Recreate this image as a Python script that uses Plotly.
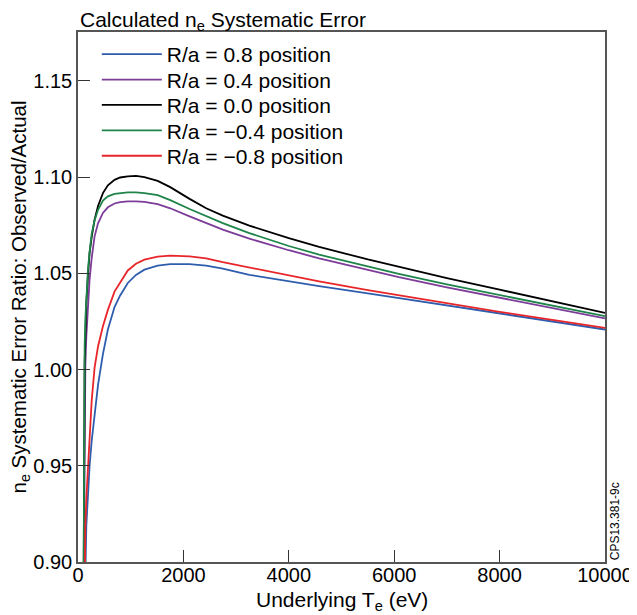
import plotly.graph_objects as go

# Underlying Te (eV)
te = [100, 113, 126, 139, 158, 189, 220, 260, 315, 380, 473, 567, 693, 800, 945,
      1100, 1260, 1512, 1750, 2117, 2432, 2747, 3251, 4000, 4575, 5500, 6087,
      7000, 8000, 9000, 10000]

ratio_p08 = [0.80, 0.84, 0.87, 0.893, 0.919, 0.936, 0.950, 0.963, 0.977, 0.992, 1.008,
             1.0208, 1.0325, 1.0385, 1.0450, 1.0492, 1.0519, 1.0540, 1.0548, 1.0548, 1.0540,
             1.0525, 1.0492, 1.0458, 1.0434, 1.0396, 1.0372, 1.0334, 1.0293, 1.0251, 1.0208]
ratio_p04 = [0.85, 0.93, 0.985, 1.002, 1.0173, 1.034, 1.0467, 1.058, 1.0692, 1.0760, 1.0814,
             1.0843, 1.0863, 1.0870, 1.0874, 1.0874, 1.0871, 1.0860, 1.0838, 1.0796, 1.0760,
             1.0727, 1.0680, 1.0620, 1.0578, 1.0516, 1.0480, 1.0427, 1.0372, 1.0318, 1.0266]
ratio_00 = [0.85, 0.99, 1.0035, 1.016, 1.0346, 1.049, 1.0606, 1.069, 1.0779, 1.085, 1.0917,
            1.0957, 1.0986, 1.0998, 1.1004, 1.1006, 1.1000, 1.0980, 1.0948, 1.0887, 1.0838,
            1.0800, 1.0748, 1.0683, 1.0638, 1.0572, 1.0533, 1.0475, 1.0415, 1.0355, 1.0294]
ratio_m04 = [0.85, 0.97, 1.012, 1.026, 1.036, 1.052, 1.061, 1.0705, 1.0775, 1.0830, 1.0878,
             1.0900, 1.0913, 1.0918, 1.0921, 1.0921, 1.0917, 1.0906, 1.0880, 1.0834, 1.0796,
             1.0761, 1.0709, 1.0642, 1.0597, 1.0534, 1.0497, 1.0442, 1.0386, 1.0331, 1.0277]
ratio_m08 = [0.80, 0.86, 0.901, 0.919, 0.933, 0.950, 0.966, 0.984, 1.001, 1.012, 1.0225,
             1.031, 1.0405, 1.0455, 1.0515, 1.0550, 1.0571, 1.0587, 1.0592, 1.0588, 1.0578,
             1.0558, 1.0530, 1.0488, 1.0458, 1.0413, 1.0386, 1.0344, 1.0300, 1.0258, 1.0216]

series_names = ["R/a = 0.8 position", "R/a = 0.4 position", "R/a = 0.0 position",
                "R/a = \u22120.4 position", "R/a = \u22120.8 position"]
series_colors = ["#2F5DAE", "#7D3C98", "#000000", "#1E8449", "#E8262A"]
series_values = [ratio_p08, ratio_p04, ratio_00, ratio_m04, ratio_m08]

x_ticks = [0, 2000, 4000, 6000, 8000, 10000]
y_ticks = [0.90, 0.95, 1.00, 1.05, 1.10, 1.15]

FONT = "Liberation Sans, Arial, Helvetica, sans-serif"
PLOT_H = 530.0

fig = go.Figure()
legend_ids = ["legend", "legend2", "legend3", "legend4", "legend5"]
for name, color, vals, lid in zip(series_names, series_colors, series_values, legend_ids):
    fig.add_trace(go.Scatter(x=te, y=vals, mode="lines", name=name, legend=lid,
                             line=dict(color=color, width=1.8)))

axis_common = dict(showline=True, linecolor="#555555", linewidth=1.5, mirror=True,
                   ticks="inside", ticklen=12, tickwidth=1.2, tickcolor="#333333",
                   showgrid=False, zeroline=False,
                   tickfont=dict(family=FONT, size=20, color="#000000"))

fig.update_xaxes(range=[0, 10000], tickvals=x_ticks, ticklabelstandoff=-6,
                 ticktext=[str(v) for v in x_ticks], **axis_common)
fig.update_yaxes(range=[0.9, 1.1754], tickvals=y_ticks,
                 ticktext=["%.2f" % v for v in y_ticks], **axis_common)

legend_layout = {}
for i, lid in enumerate(legend_ids):
    center_px = 22.5 + 25.4 * i  # distance below plot top
    legend_layout[lid] = dict(x=0.0357, y=1 - center_px / PLOT_H, xanchor="left",
                              yanchor="middle", bgcolor="rgba(0,0,0,0)", borderwidth=0,
                              itemwidth=60, font=dict(family=FONT, size=21, color="#000000"))

fig.update_layout(
    width=637, height=615,
    margin=dict(l=70, r=38, t=24, b=61),
    paper_bgcolor="white", plot_bgcolor="white",
    font=dict(family=FONT, size=21, color="#000000"),
    showlegend=True,
    **legend_layout,
    annotations=[
        dict(text="Calculated n<sub>e</sub> Systematic Error", xref="paper", yref="paper",
             x=0, y=1.021, xanchor="left", yanchor="middle", showarrow=False,
             font=dict(family=FONT, size=21)),
        dict(text="n<sub>e</sub> Systematic Error Ratio: Observed/Actual", xref="paper",
             yref="paper", x=-0.111, y=0.5, textangle=-90, xanchor="center",
             yanchor="middle", showarrow=False, font=dict(family=FONT, size=20.5)),
        dict(text="Underlying T<sub>e</sub> (eV)", xref="paper", yref="paper",
             x=0.5, y=-0.073, xanchor="center", yanchor="middle", showarrow=False,
             font=dict(family=FONT, size=21)),
        dict(text="CPS13.381-9c", xref="paper", yref="paper", x=1.0195, y=0,
             textangle=-90, xanchor="center", yanchor="bottom", showarrow=False,
             font=dict(family=FONT, size=12)),
    ],
)

fig.write_html("out.html")
